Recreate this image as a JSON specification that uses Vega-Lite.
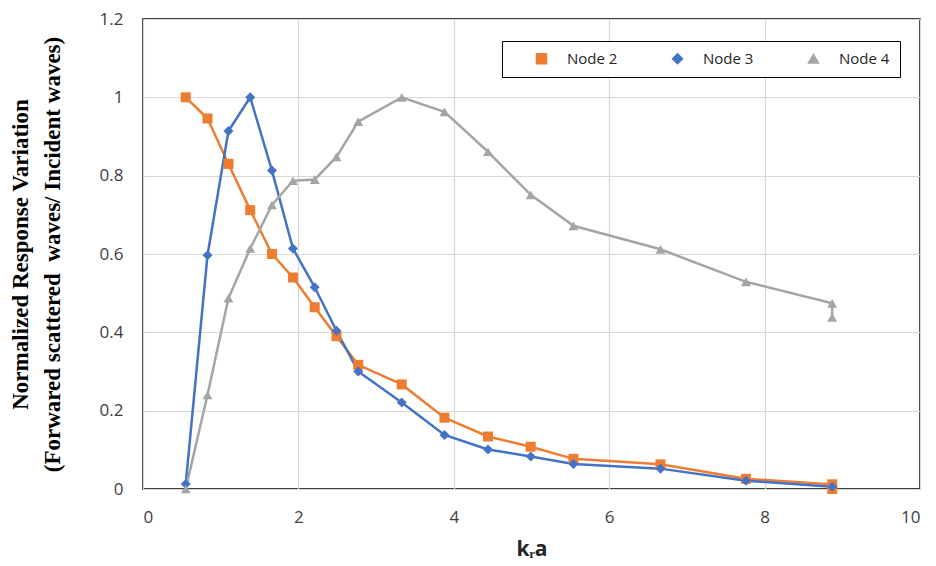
{
  "$schema": "https://vega.github.io/schema/vega-lite/v6.json",
  "width": 777,
  "height": 470,
  "autosize": "none",
  "padding": {"left": 143, "top": 19, "right": 16, "bottom": 77},
  "background": "white",
  "config": {
    "view": {"stroke": "black", "strokeWidth": 1.5},
    "axis": {"gridColor": "#d9d9d9", "gridWidth": 1.2, "domain": false, "ticks": false, "labelFont": "Open Sans", "labelFontSize": 17, "labelColor": "#404040"}
  },
  "data": {"values": [
    {"node": "Node 2", "i": 1, "x": 0.55, "y": 1.0},
    {"node": "Node 2", "i": 2, "x": 0.83, "y": 0.946},
    {"node": "Node 2", "i": 3, "x": 1.10, "y": 0.830},
    {"node": "Node 2", "i": 4, "x": 1.38, "y": 0.712},
    {"node": "Node 2", "i": 5, "x": 1.66, "y": 0.600},
    {"node": "Node 2", "i": 6, "x": 1.93, "y": 0.540},
    {"node": "Node 2", "i": 7, "x": 2.21, "y": 0.464},
    {"node": "Node 2", "i": 8, "x": 2.49, "y": 0.390},
    {"node": "Node 2", "i": 9, "x": 2.77, "y": 0.317},
    {"node": "Node 2", "i": 10, "x": 3.33, "y": 0.267},
    {"node": "Node 2", "i": 11, "x": 3.88, "y": 0.182},
    {"node": "Node 2", "i": 12, "x": 4.44, "y": 0.134},
    {"node": "Node 2", "i": 13, "x": 4.99, "y": 0.108},
    {"node": "Node 2", "i": 14, "x": 5.54, "y": 0.077},
    {"node": "Node 2", "i": 15, "x": 6.66, "y": 0.063},
    {"node": "Node 2", "i": 16, "x": 7.76, "y": 0.026},
    {"node": "Node 2", "i": 17, "x": 8.87, "y": 0.012},
    {"node": "Node 2", "i": 18, "x": 8.87, "y": 0.0},
    {"node": "Node 3", "i": 1, "x": 0.55, "y": 0.013},
    {"node": "Node 3", "i": 2, "x": 0.83, "y": 0.597},
    {"node": "Node 3", "i": 3, "x": 1.10, "y": 0.914},
    {"node": "Node 3", "i": 4, "x": 1.38, "y": 1.0},
    {"node": "Node 3", "i": 5, "x": 1.66, "y": 0.813},
    {"node": "Node 3", "i": 6, "x": 1.93, "y": 0.614},
    {"node": "Node 3", "i": 7, "x": 2.21, "y": 0.515},
    {"node": "Node 3", "i": 8, "x": 2.49, "y": 0.404},
    {"node": "Node 3", "i": 9, "x": 2.77, "y": 0.300},
    {"node": "Node 3", "i": 10, "x": 3.33, "y": 0.221},
    {"node": "Node 3", "i": 11, "x": 3.88, "y": 0.138},
    {"node": "Node 3", "i": 12, "x": 4.44, "y": 0.101},
    {"node": "Node 3", "i": 13, "x": 4.99, "y": 0.083},
    {"node": "Node 3", "i": 14, "x": 5.54, "y": 0.064},
    {"node": "Node 3", "i": 15, "x": 6.66, "y": 0.052},
    {"node": "Node 3", "i": 16, "x": 7.76, "y": 0.021},
    {"node": "Node 3", "i": 17, "x": 8.87, "y": 0.006},
    {"node": "Node 4", "i": 1, "x": 0.55, "y": 0.0},
    {"node": "Node 4", "i": 2, "x": 0.83, "y": 0.240},
    {"node": "Node 4", "i": 3, "x": 1.10, "y": 0.487},
    {"node": "Node 4", "i": 4, "x": 1.38, "y": 0.614},
    {"node": "Node 4", "i": 5, "x": 1.66, "y": 0.725},
    {"node": "Node 4", "i": 6, "x": 1.93, "y": 0.787},
    {"node": "Node 4", "i": 7, "x": 2.21, "y": 0.790},
    {"node": "Node 4", "i": 8, "x": 2.49, "y": 0.848},
    {"node": "Node 4", "i": 9, "x": 2.77, "y": 0.938},
    {"node": "Node 4", "i": 10, "x": 3.33, "y": 1.0},
    {"node": "Node 4", "i": 11, "x": 3.88, "y": 0.963},
    {"node": "Node 4", "i": 12, "x": 4.44, "y": 0.861},
    {"node": "Node 4", "i": 13, "x": 4.99, "y": 0.751},
    {"node": "Node 4", "i": 14, "x": 5.54, "y": 0.672},
    {"node": "Node 4", "i": 15, "x": 6.66, "y": 0.612},
    {"node": "Node 4", "i": 16, "x": 7.76, "y": 0.529},
    {"node": "Node 4", "i": 17, "x": 8.87, "y": 0.474},
    {"node": "Node 4", "i": 18, "x": 8.87, "y": 0.438}
  ]},
  "encoding": {
    "x": {"field": "x", "type": "quantitative", "scale": {"domain": [0, 10], "nice": false},
      "axis": {"values": [0, 2, 4, 6, 8, 10], "title": "kᵣa", "titleFont": "Open Sans", "titleFontSize": 21, "titleFontWeight": "bold", "titleColor": "#262626", "labelPadding": 20, "titlePadding": 13}},
    "y": {"field": "y", "type": "quantitative", "scale": {"domain": [0, 1.2], "nice": false},
      "axis": {"values": [0, 0.2, 0.4, 0.6, 0.8, 1, 1.2], "format": "~g", "labelPadding": 20,
        "title": ["Normalized Response Variation", "(Forwared scattered\u00a0 waves/ Incident waves)"],
        "titleFont": "Liberation Serif", "titleFontSize": 23, "titleFontWeight": "bold", "titleColor": "black", "titleLineHeight": 32, "titlePadding": 35}},
    "color": {"field": "node", "type": "nominal", "title": null,
      "scale": {"domain": ["Node 2", "Node 3", "Node 4"], "range": ["#ED7D31", "#4472C4", "#A5A5A5"]}}
  },
  "layer": [
    {"mark": {"type": "line", "strokeWidth": 2.5}, "encoding": {"order": {"field": "i", "type": "quantitative"}}},
    {"mark": {"type": "point", "filled": true, "opacity": 1, "size": 100},
      "encoding": {
        "shape": {"field": "node", "type": "nominal", "title": null,
          "scale": {"domain": ["Node 2", "Node 3", "Node 4"], "range": ["square", "diamond", "triangle-up"]},
          "legend": {
            "orient": "none", "legendX": 359, "legendY": 22, "direction": "horizontal",
            "strokeColor": "black", "fillColor": "white", "padding": 10,
            "labelFont": "Open Sans", "labelFontSize": 15, "labelColor": "#262626",
            "symbolSize": 100, "symbolOffset": 22, "labelOffset": 18, "columnPadding": 30
          }}
      }
    }
  ]
}
